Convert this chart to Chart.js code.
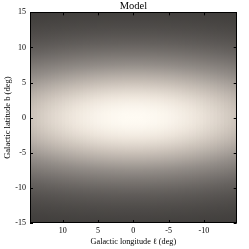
<!DOCTYPE html>
<html>
<head>
<meta charset="utf-8">
<script src="https://cdn.jsdelivr.net/npm/chart.js@4"></script>
<style>
    html, body { margin: 0; padding: 0; background: #fff; }
</style>
</head>
<body>
<canvas id="model-chart" width="249" height="249"></canvas>
<script>
// Brightness profiles (0 = darkest, 1 = centre), symmetric about 0
const latSteps = [0, 0.5, 1, 1.5, 2, 2.5, 3, 3.5, 4, 4.5, 5, 5.5, 6, 6.5, 7, 7.5, 8, 8.5, 9, 9.5, 10, 10.5, 11, 11.5, 12, 12.5, 13, 13.5, 14, 14.5, 15];
const latProfile = [1.000, 0.997, 0.988, 0.973, 0.952, 0.927, 0.896, 0.861, 0.822, 0.781, 0.737, 0.691, 0.645, 0.597, 0.550, 0.503, 0.458, 0.414, 0.372, 0.332, 0.295, 0.260, 0.228, 0.199, 0.172, 0.148, 0.127, 0.108, 0.091, 0.077, 0.064];
const lonSteps = [0, 0.5, 1, 1.5, 2, 2.5, 3, 3.5, 4, 4.5, 5, 5.5, 6, 6.5, 7, 7.5, 8, 8.5, 9, 9.5, 10, 10.5, 11, 11.5, 12, 12.5, 13, 13.5, 14, 14.5];
const lonProfile = [1.000, 1.000, 0.999, 0.997, 0.994, 0.991, 0.988, 0.983, 0.978, 0.972, 0.966, 0.959, 0.951, 0.943, 0.934, 0.925, 0.915, 0.905, 0.894, 0.883, 0.871, 0.858, 0.846, 0.833, 0.819, 0.805, 0.791, 0.777, 0.762, 0.747];

// tick labels
const xTickValues = [10, 5, 0, -5, -10];
const yTickValues = [-15, -10, -5, 0, 5, 10, 15];

// colour map (dark warm grey -> cream)
const cmap = [
    [0.00, 56, 54, 52],
    [0.25, 100, 96, 93],
    [0.50, 148, 142, 137],
    [0.75, 205, 196, 187],
    [0.90, 238, 230, 220],
    [1.00, 255, 251, 243]
];

function colorFor(v) {
    v = Math.max(0, Math.min(1, v));
    for (let k = 1; k < cmap.length; k++) {
        if (v <= cmap[k][0]) {
            const a = cmap[k - 1], b = cmap[k];
            const t = (v - a[0]) / (b[0] - a[0]);
            const c = [1, 2, 3].map(n => Math.round(a[n] + (b[n] - a[n]) * t));
            return `rgb(${c[0]},${c[1]},${c[2]})`;
        }
    }
    return 'rgb(255,251,243)';
}

// mirror the half profiles onto full axes
function mirror(steps, prof) {
    const out = [];
    for (let k = steps.length - 1; k > 0; k--) out.push([-steps[k], prof[k]]);
    for (let k = 0; k < steps.length; k++) out.push([steps[k], prof[k]]);
    return out;
}

const lats = mirror(latSteps, latProfile);
const lons = mirror(lonSteps, lonProfile);

// one column per longitude sample, spanning the full latitude range
const columns = lons.map(([l]) => ({ x: l, y: [-15, 15] }));

// vertical gradient for each column, stops at the latitude samples
function columnFill(context) {
    const chart = context.chart;
    if (!chart.chartArea || context.dataIndex === undefined) return 'rgba(0,0,0,0)';
    const y = chart.scales.y;
    const pl = lons[context.dataIndex][1];
    const g = chart.ctx.createLinearGradient(0, y.getPixelForValue(-15), 0, y.getPixelForValue(15));
    lats.forEach(([b, pb]) => g.addColorStop((b + 15) / 30, colorFor(pb * pl)));
    return g;
}

const serif = 'Liberation Serif';

// frame and inward tick marks on all four sides
const frameTicks = {
    id: 'frameTicks',
    afterDatasetsDraw(chart) {
        const { ctx, chartArea: a, scales: { x, y } } = chart;
        ctx.save();
        ctx.strokeStyle = '#000';
        ctx.lineWidth = 1;
        ctx.beginPath();
        x.ticks.forEach(t => {
            const px = Math.round(x.getPixelForValue(t.value)) + 0.5;
            ctx.moveTo(px, a.bottom); ctx.lineTo(px, a.bottom - 3);
            ctx.moveTo(px, a.top); ctx.lineTo(px, a.top + 3);
        });
        y.ticks.forEach(t => {
            const py = Math.round(y.getPixelForValue(t.value)) + 0.5;
            ctx.moveTo(a.left, py); ctx.lineTo(a.left + 3, py);
            ctx.moveTo(a.right, py); ctx.lineTo(a.right - 3, py);
        });
        ctx.stroke();
        ctx.strokeRect(Math.round(a.left) + 0.5, Math.round(a.top) + 0.5,
            Math.round(a.right - a.left) - 1, Math.round(a.bottom - a.top) - 1);
        ctx.restore();
    }
};

new Chart(document.getElementById('model-chart'), {
    type: 'bar',
    data: {
        datasets: [{
            data: columns,
            backgroundColor: columnFill,
            borderWidth: 0,
            barPercentage: 1,
            categoryPercentage: 1,
            inflateAmount: 0.8,
            clip: 0
        }]
    },
    plugins: [frameTicks],
    options: {
        responsive: false,
        animation: false,
        events: [],
        layout: { padding: { right: 12.3 } },
        plugins: {
            legend: { display: false },
            tooltip: { enabled: false },
            title: {
                display: true,
                text: 'Model',
                fullSize: false,
                color: '#000',
                font: { family: serif, size: 10.5, weight: 'normal', lineHeight: 1.1 },
                padding: { top: 0, bottom: 0.8 }
            }
        },
        scales: {
            x: {
                type: 'linear',
                reverse: true,
                min: -14.65,
                max: 14.65,
                offset: false,
                grid: { display: false, drawTicks: false },
                border: { display: false },
                afterBuildTicks: s => { s.ticks = xTickValues.map(v => ({ value: v })); },
                afterFit: s => { s.height = 26; },
                ticks: { color: '#000', font: { family: serif, size: 8 }, padding: 3, maxRotation: 0, autoSkip: false },
                title: {
                    display: true,
                    text: 'Galactic longitude ℓ (deg)',
                    color: '#000',
                    font: { family: serif, size: 8.2, lineHeight: 1.2 },
                    padding: { top: 0, bottom: 2 }
                }
            },
            y: {
                type: 'linear',
                min: -15,
                max: 15,
                grid: { display: false, drawTicks: false },
                border: { display: false },
                afterBuildTicks: s => { s.ticks = yTickValues.map(v => ({ value: v })); },
                afterFit: s => { s.width = 30; },
                ticks: { color: '#000', font: { family: serif, size: 8 }, padding: 4, autoSkip: false },
                title: {
                    display: true,
                    text: 'Galactic latitude b (deg)',
                    color: '#000',
                    font: { family: serif, size: 8.5, lineHeight: 1.2 },
                    padding: { top: 3, bottom: 0 }
                }
            }
        }
    }
});
</script>
</body>
</html>
